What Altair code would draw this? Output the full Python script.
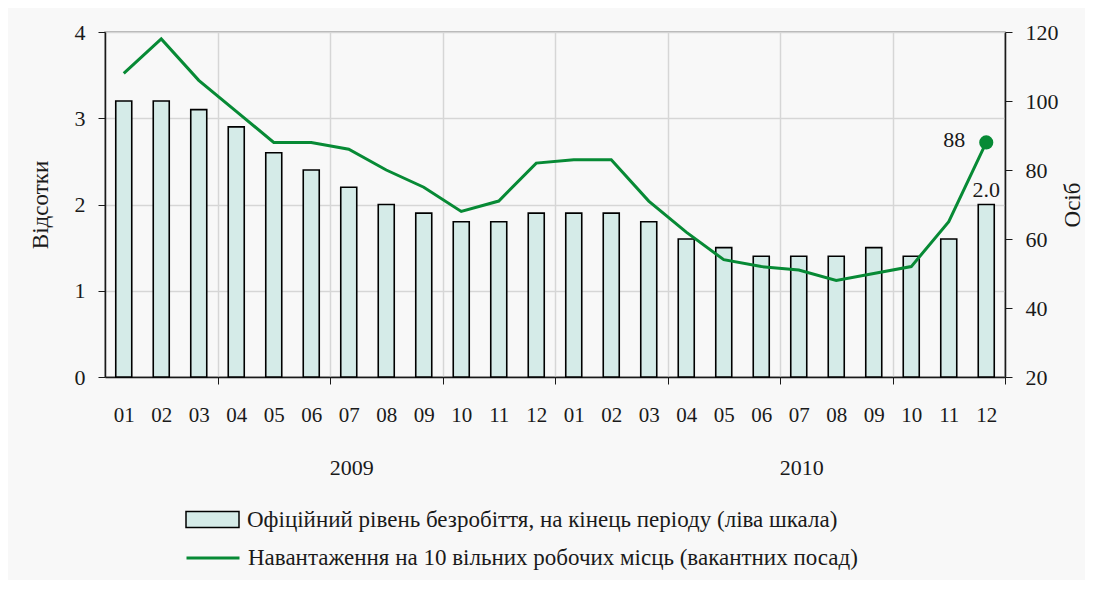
import altair as alt
import pandas as pd

months = ["01", "02", "03", "04", "05", "06", "07", "08", "09", "10", "11", "12",
          "01", "02", "03", "04", "05", "06", "07", "08", "09", "10", "11", "12"]
years = ["2009", "2010"]
unemployment = [3.2, 3.2, 3.1, 2.9, 2.6, 2.4, 2.2, 2.0, 1.9, 1.8, 1.8, 1.9,
                1.9, 1.9, 1.8, 1.6, 1.5, 1.4, 1.4, 1.4, 1.5, 1.4, 1.6, 2.0]
load = [108, 118, 106, 97, 88, 88, 86, 80, 75, 68, 71, 82,
        83, 83, 71, 62, 54, 52, 51, 48, 50, 52, 65, 88]

bar_name = "Офіційний рівень безробіття, на кінець періоду (ліва шкала)"
line_name = "Навантаження на 10 вільних робочих місць (вакантних посад)"

df = pd.DataFrame({
    "idx": list(range(len(months))),
    "month": months,
    "rate": unemployment,
    "load": load,
    "s1": [bar_name] * len(months),
    "s2": [line_name] * len(months),
})
last = len(months) - 1
ydf = pd.DataFrame({"year": years, "idx": [6 + 12 * i for i in range(len(years))]})

FONT = "Liberation Serif"
GREEN = "#078a35"
BARFILL = "#d5ebe8"
INK = "#1a1a1a"
GRID = "#d6d6d6"

label_expr = "[" + ",".join("'%s'" % m for m in months) + "][datum.value]"

xaxis = alt.Axis(
    title=None, labelExpr=label_expr, labelAngle=0, tickBand="extent",
    grid=True, gridColor=GRID, gridWidth=1.5,
    gridOpacity={"condition": {"test": "datum.value % 3 == 2", "value": 1}, "value": 0},
    tickOpacity={"condition": {"test": "datum.value % 3 == 2", "value": 1}, "value": 0},
    tickSize=7, tickColor=INK, domainColor=INK, domainWidth=1.5,
    labelPadding=20, labelFont=FONT, labelFontSize=21, labelColor=INK,
)
xscale = alt.Scale(paddingInner=0, paddingOuter=0)
X = alt.X("idx:O", scale=xscale, axis=xaxis)

yl_axis = alt.Axis(title="Відсотки", values=[0, 1, 2, 3, 4], grid=True,
                   gridColor=GRID, gridWidth=1.5, tickSize=7,
                   tickColor=INK, domainColor=INK, domainWidth=1.5,
                   labelPadding=13, labelFont=FONT, labelFontSize=22,
                   labelColor=INK, titleFont=FONT, titleFontSize=23,
                   titleFontWeight="normal", titleColor=INK, titlePadding=22)
YL = alt.Y("rate:Q", scale=alt.Scale(domain=[0, 4]), axis=yl_axis)

yr_axis = alt.Axis(title="Осіб", orient="right", values=[20, 40, 60, 80, 100, 120],
                   grid=False, tickSize=7, tickColor=INK, domainColor=INK,
                   domainWidth=1.5, labelPadding=13, labelFont=FONT,
                   labelFontSize=22, labelColor=INK, titleFont=FONT,
                   titleFontSize=23, titleFontWeight="normal", titleColor=INK,
                   titleAngle=270, titleBaseline="top", titlePadding=3)
YR = alt.Y("load:Q", scale=alt.Scale(domain=[20, 120]), axis=yr_axis)

base = alt.Chart(df)

bars = base.mark_bar(size=16, stroke="black", strokeWidth=1.6).encode(
    x=X, y=YL,
    fill=alt.Fill("s1:N", scale=alt.Scale(domain=[bar_name], range=[BARFILL]),
                  legend=alt.Legend(title=None, orient="none", legendX=80, legendY=460,
                                    padding=0, symbolType="M-1,-0.3H1V0.3H-1Z",
                                    symbolSize=2809, symbolStrokeColor="black",
                                    symbolStrokeWidth=1.5, symbolFillColor=BARFILL,
                                    labelFont=FONT, labelFontSize=23, labelColor=INK,
                                    labelOffset=7, labelLimit=900)),
)

bar_text = base.transform_filter(f"datum.idx == {last}").mark_text(
    font=FONT, fontSize=22, color=INK, baseline="bottom", dy=-3
).encode(
    x=X, y=YL,
    text=alt.Text("rate:Q", format=".1f"),
)

year_text = alt.Chart(ydf).mark_text(
    font=FONT, fontSize=22, color=INK, baseline="middle", dx=3
).encode(
    x=X,
    y=alt.value(436),
    text="year:N",
)

line = base.mark_line(strokeWidth=3).encode(
    x=X, y=YR,
    stroke=alt.Stroke("s2:N", scale=alt.Scale(domain=[line_name], range=[GREEN]),
                      legend=alt.Legend(title=None, orient="none", legendX=80, legendY=498,
                                        padding=0, symbolType="stroke", symbolSize=2809,
                                        symbolStrokeWidth=3,
                                        labelFont=FONT, labelFontSize=23, labelColor=INK,
                                        labelOffset=7, labelLimit=900)),
)

pt = base.transform_filter(f"datum.idx == {last}").mark_circle(
    size=200, color=GREEN, opacity=1
).encode(x=X, y=YR)

pt_text = base.transform_filter(f"datum.idx == {last}").mark_text(
    font=FONT, fontSize=22, color=INK, align="right", baseline="middle", dx=-21, dy=-2
).encode(
    x=X, y=YR,
    text=alt.Text("load:Q", format="d"),
)

left = alt.layer(bars, bar_text, year_text)
right = alt.layer(line, pt, pt_text)

chart = alt.layer(left, right).resolve_scale(
    y="independent", fill="independent", stroke="independent"
).properties(
    width=900, height=345,
    autosize=alt.AutoSizeParams(type="none"),
    padding={"left": 97, "top": 24, "right": 80, "bottom": 203},
    background="#f8f8f8",
).configure_view(stroke="#9a9a9a", strokeWidth=1.5)

chart.save("out.html", embed_options={"renderer": "svg", "actions": False})
